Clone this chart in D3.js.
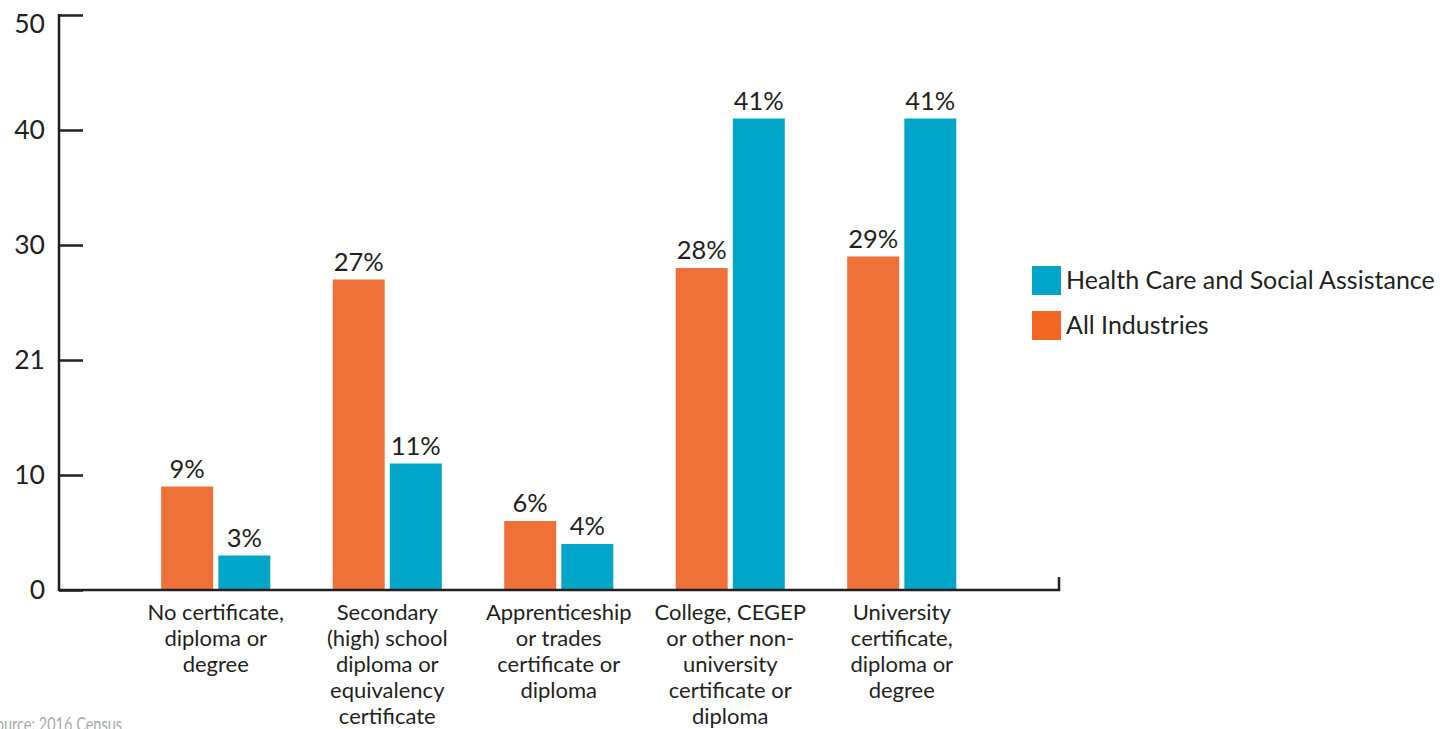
<!DOCTYPE html>
<html>
<head>
<meta charset="utf-8">
<script src="https://cdn.jsdelivr.net/npm/d3@7.9.0/dist/d3.min.js"></script>
<style>
  body { margin: 0; background: #fff; }
  svg { display: block; font-family: Lato, sans-serif; }
</style>
</head>
<body>
<svg id="chart" width="1452" height="729"></svg>
<script>
const categories = [
  ['No certificate,', 'diploma or', 'degree'],
  ['Secondary', '(high) school', 'diploma or', 'equivalency', 'certificate'],
  ['Apprenticeship', 'or trades', 'certificate or', 'diploma'],
  ['College, CEGEP', 'or other non-', 'university', 'certificate or', 'diploma'],
  ['University', 'certificate,', 'diploma or', 'degree']
];
const seriesNames = ['All Industries', 'Health Care and Social Assistance'];
const allIndustries = [9, 27, 6, 28, 29];
const healthCare = [3, 11, 4, 41, 41];
const yTicks = [0, 10, 20, 30, 40, 50];
const yTickLabels = ['0', '10', '21', '30', '40', '50'];

const barColors = ['#f0703a', '#00a5c8'];
const legendColors = ['#f26522', '#00a5c8'];
const ink = '#231f20';

const svg = d3.select('#chart');

const y = d3.scaleLinear().domain([0, 50]).range([590, 15]);
const x = d3.scaleBand()
  .domain(d3.range(categories.length))
  .range([130, 987.5])
  .paddingInner(0.364)
  .paddingOuter(0.182);
const xs = d3.scaleBand()
  .domain([0, 1])
  .range([0, x.bandwidth()])
  .paddingInner(0.09);

const rows = categories.map((c, i) => ({ i, values: [allIndustries[i], healthCare[i]] }));

// bars
const groups = svg.selectAll('g.group')
  .data(rows)
  .join('g')
  .attr('class', 'group')
  .attr('transform', d => `translate(${x(d.i)},0)`);

groups.selectAll('rect')
  .data(d => d.values.map((v, s) => ({ v, s })))
  .join('rect')
  .attr('x', d => xs(d.s))
  .attr('width', xs.bandwidth())
  .attr('y', d => y(d.v))
  .attr('height', d => y(0) - y(d.v))
  .attr('fill', d => barColors[d.s]);

groups.selectAll('text.val')
  .data(d => d.values.map((v, s) => ({ v, s })))
  .join('text')
  .attr('class', 'val')
  .attr('x', d => xs(d.s) + xs.bandwidth() / 2)
  .attr('y', d => y(d.v) - 9)
  .attr('text-anchor', 'middle')
  .attr('font-size', 25.5)
  .attr('fill', ink)
  .text(d => d.v + '%');

// y axis
const yAxis = svg.append('g')
  .attr('transform', 'translate(59,0)')
  .call(d3.axisRight(y).tickValues(yTicks).tickSize(24).tickFormat(''));
yAxis.select('.domain').remove();
yAxis.selectAll('.tick line').attr('stroke', ink).attr('stroke-width', 2.5);

svg.append('line')
  .attr('x1', 59).attr('x2', 59)
  .attr('y1', y(50) - 1).attr('y2', y(0) + 1)
  .attr('stroke', ink).attr('stroke-width', 2.5);

// the top label sits just under its tick in the original
svg.selectAll('text.ytick')
  .data(yTicks)
  .join('text')
  .attr('class', 'ytick')
  .attr('x', 45)
  .attr('y', d => Math.max(y(d), 24))
  .attr('dy', '0.35em')
  .attr('text-anchor', 'end')
  .attr('font-size', 26.5)
  .attr('fill', ink)
  .text((d, i) => yTickLabels[i]);

// x axis baseline
svg.append('path')
  .attr('d', `M59,${y(0)}H1059V${y(0) - 13}`)
  .attr('fill', 'none')
  .attr('stroke', ink)
  .attr('stroke-width', 2.5);

// category labels
const xl = svg.selectAll('text.xlab')
  .data(categories)
  .join('text')
  .attr('class', 'xlab')
  .attr('text-anchor', 'middle')
  .attr('font-size', 22)
  .attr('fill', ink);
xl.selectAll('tspan')
  .data((d, i) => d.map(line => ({ line, i })))
  .join('tspan')
  .attr('x', d => x(d.i) + x.bandwidth() / 2)
  .attr('y', (d, j) => 620 + j * 26)
  .text(d => d.line);

// legend
const legendOrder = [1, 0];
const lg = svg.selectAll('g.legend')
  .data(legendOrder)
  .join('g')
  .attr('class', 'legend')
  .attr('transform', (d, i) => `translate(1032,${266 + i * 45})`);
lg.append('rect')
  .attr('width', 29).attr('height', 29)
  .attr('fill', d => legendColors[d]);
lg.append('text')
  .attr('x', 34).attr('y', 23)
  .attr('font-size', 25)
  .attr('fill', ink)
  .text(d => seriesNames[d]);

// source note, cut at the left and bottom edges as in the original
svg.append('text')
  .attr('x', -12).attr('y', 731)
  .attr('font-size', 19)
  .attr('fill', '#a7a9ac')
  .attr('textLength', 134)
  .attr('lengthAdjust', 'spacingAndGlyphs')
  .text('Source: 2016 Census');
</script>
</body>
</html>
